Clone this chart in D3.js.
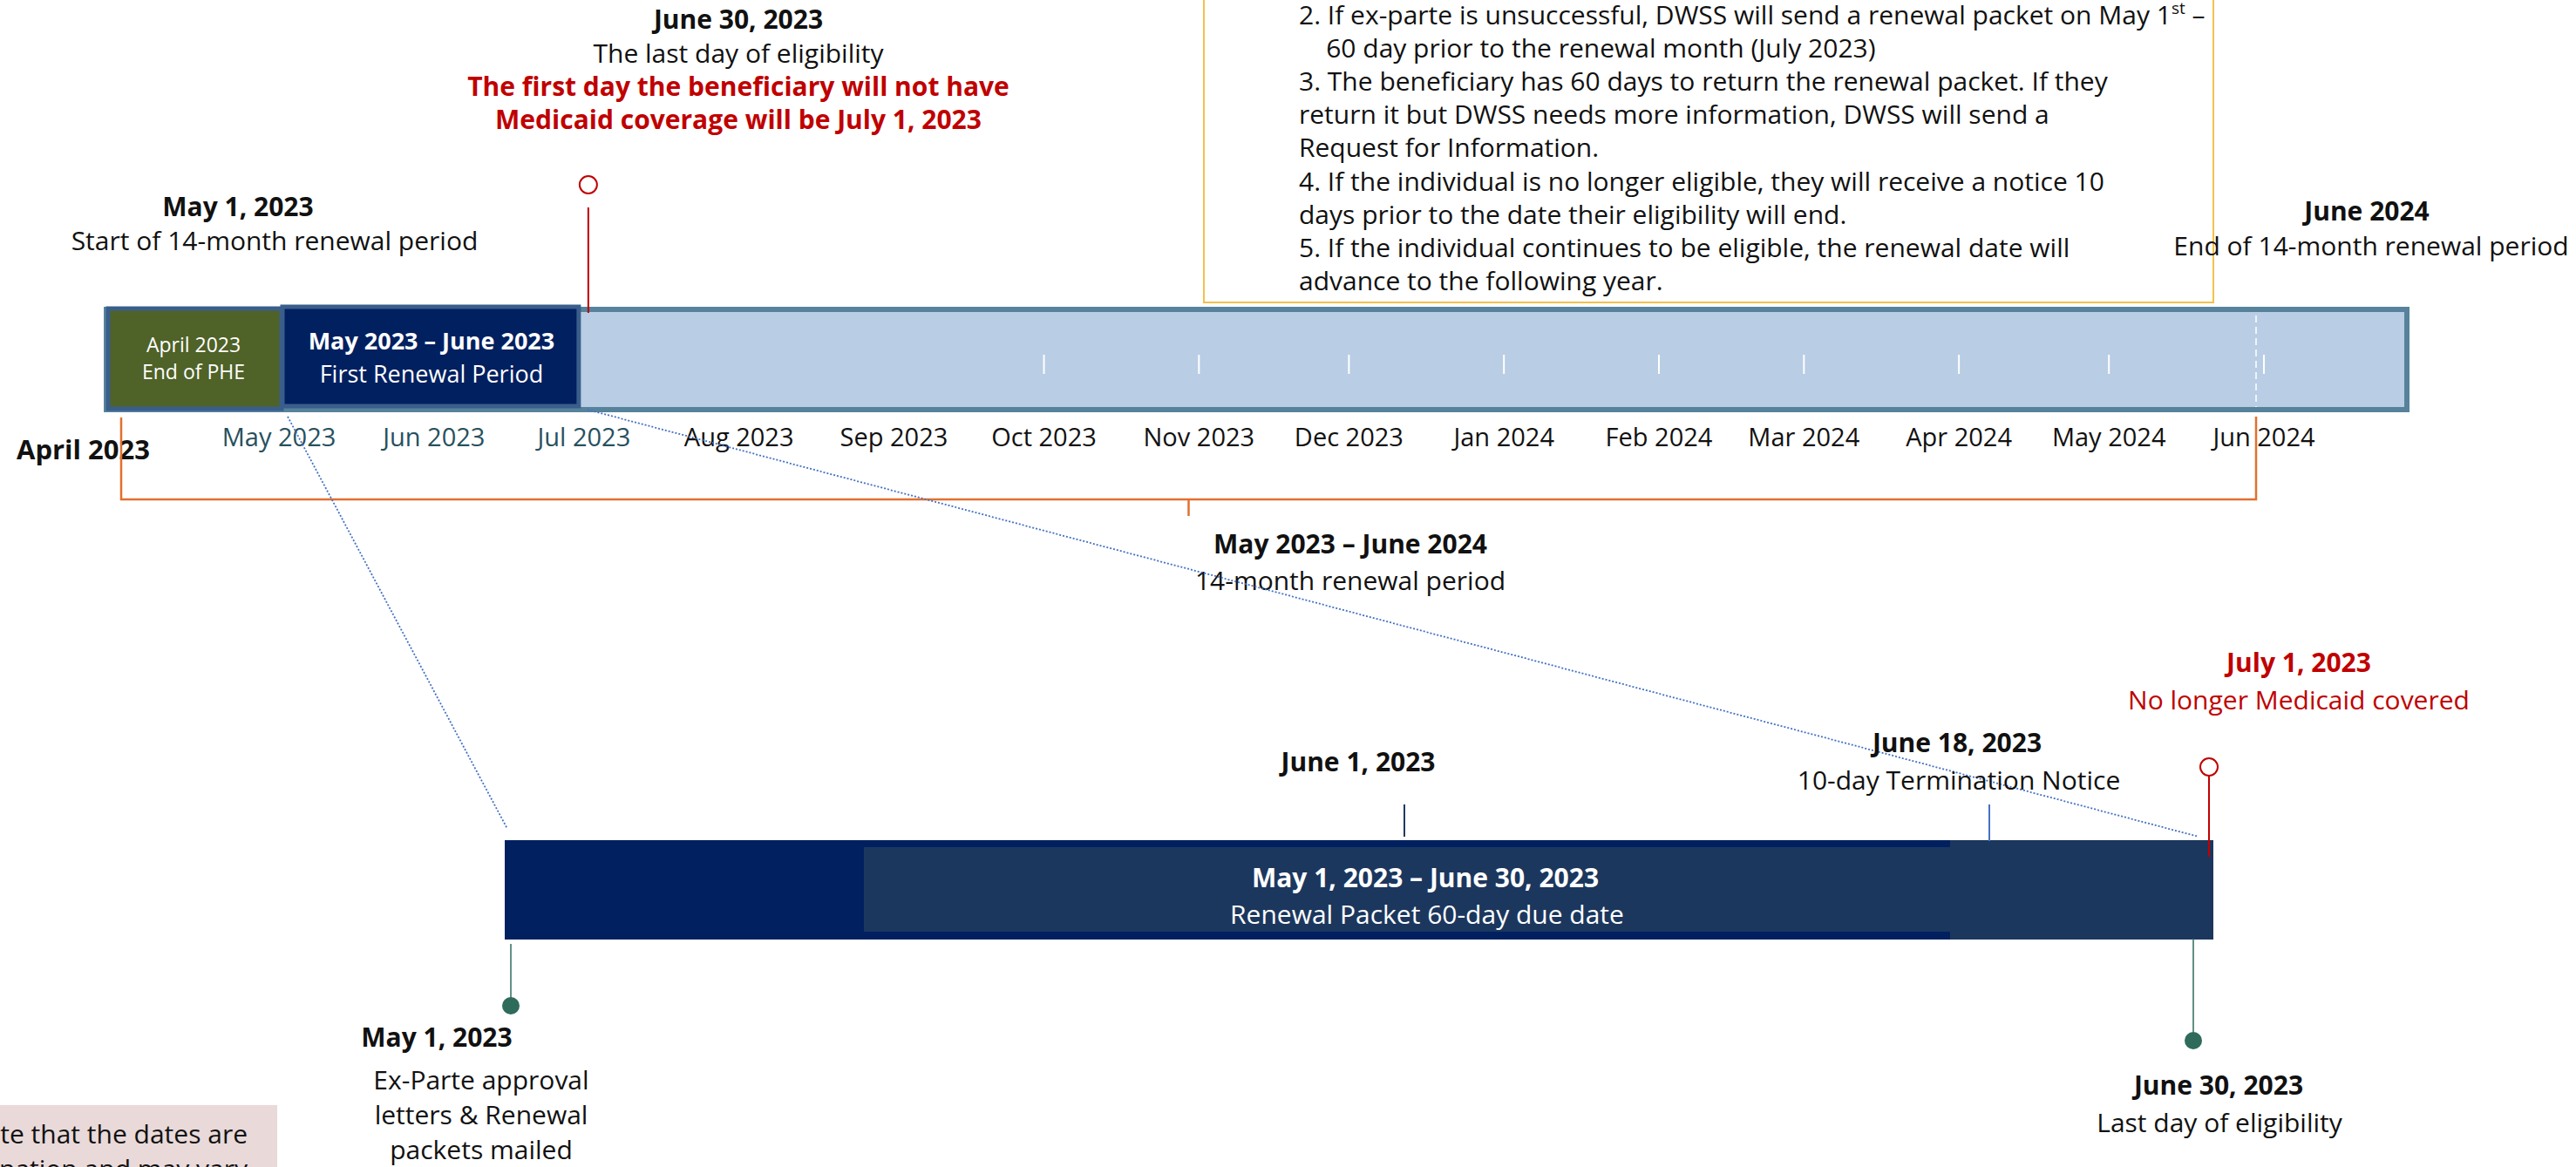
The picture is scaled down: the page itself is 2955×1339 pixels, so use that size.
<!DOCTYPE html>
<html>
<head>
<meta charset="utf-8">
<script src="https://cdn.jsdelivr.net/npm/d3@7"></script>
<style>
  html, body { margin: 0; padding: 0; background: #fff; }
  svg { display: block; font-family: "Open Sans", "Noto Sans", sans-serif; }
</style>
</head>
<body>
<div class="timeline"></div>
<script>
var parseDay = d3.timeParse("%Y-%m-%d");

// months of the 14-month renewal period
var months = ["2023-05-01", "2023-06-01", "2023-07-01", "2023-08-01", "2023-09-01", "2023-10-01",
  "2023-11-01", "2023-12-01", "2024-01-01", "2024-02-01", "2024-03-01", "2024-04-01",
  "2024-05-01", "2024-06-01"];

// month labels under the bar
var monthLabels = ["May 2023", "Jun 2023", "Jul 2023", "Aug 2023", "Sep 2023", "Oct 2023",
  "Nov 2023", "Dec  2023", "Jan 2024", "Feb 2024", "Mar 2024", "Apr 2024", "May 2024", "Jun  2024"];

// months that get a white tick inside the bar
var tickMonths = ["2023-10-01", "2023-11-01", "2023-12-01", "2024-01-01", "2024-02-01",
  "2024-03-01", "2024-04-01", "2024-05-01", "2024-06-01"];

// periods drawn on the top bar
var periodStarts = ["2023-04-01", "2023-05-01"];
var periodEnds = ["2023-05-01", "2023-07-01"];
var periodTitles = ["April 2023", "May 2023 \u2013 June 2023"];
var periodSubtitles = ["End of PHE", "First Renewal Period"];

// key dates of the first renewal (lower bar)
var eventDates = ["2023-05-01", "2023-06-01", "2023-06-18", "2023-06-30", "2023-07-01"];
var eventTitles = ["May 1, 2023", "June 1, 2023", "June 18, 2023", "June 30, 2023", "July 1, 2023"];
var eventLines = [
  ["Ex-Parte approval", "letters & Renewal", "packets mailed"],
  [],
  ["10-day Termination Notice"],
  ["Last day of eligibility"],
  ["No longer Medicaid covered"]];

// numbered steps in the text box
var steps = [
  "2. If ex-parte is unsuccessful, DWSS will send a renewal packet on May 1|st| \u2013",
  "    60 day prior to the renewal month (July 2023)",
  "3. The beneficiary has 60 days to return the renewal packet. If they",
  "return it but DWSS needs more information, DWSS will send a",
  "Request for Information.",
  "4. If the individual is no longer eligible, they will receive a notice 10",
  "days prior to the date their eligibility will end.",
  "5. If the individual continues to be eligible, the renewal date will",
  "advance to the following year."];

var Timeline = function(){

  // write a block of centred lines
  function lines(g, x, y, list, step, size, weight, color, anchor) {
    g.append("text")
      .attr("x", x)
      .attr("y", y)
      .attr("text-anchor", anchor || "middle")
      .style("font-size", size + "px")
      .style("font-weight", weight)
      .style("fill", color)
      .selectAll("tspan")
      .data(list)
      .enter()
      .append("tspan")
      .attr("x", x)
      .attr("dy", function (d, i) { return i === 0 ? 0 : step; })
      .text(function (d) { return d; });
  }

  return {

    init: function() {

      var red = "#c00000", navy = "#012060", slate = "#1c375e", green = "#2e6b5b";

      // create the SVG
      var svg = d3.select(".timeline").append("svg")
        .attr("width", 2955)
        .attr("height", 1339);

      svg.append("rect")
        .attr("width", 2955)
        .attr("height", 1339)
        .style("fill", "#fff");

      // scale for the 14-month bar
      var x = d3.scaleTime()
        .domain([parseDay(months[0]), parseDay(months[months.length - 1])])
        .range([320, 2597]);

      // scale for the zoomed first renewal period
      var x2 = d3.scaleTime()
        .domain(eventDates.map(parseDay))
        .range([586, 1611, 2282, 2516, 2534]);

      // ---- text box with the steps
      var box = svg.append("g");
      box.append("rect")
        .attr("x", 1381).attr("y", -20)
        .attr("width", 1158).attr("height", 367)
        .style("fill", "#fff")
        .style("stroke", "#f2c14e")
        .style("stroke-width", 2);

      var stepText = box.append("text")
        .style("font-size", "30px")
        .style("fill", "#111")
        .attr("xml:space", "preserve");
      steps.forEach(function (s, i) {
        var parts = s.split("|");
        stepText.append("tspan")
          .attr("x", 1490)
          .attr("y", 28 + i * 38.1)
          .text(parts[0]);
        if (parts.length > 1) {
          stepText.append("tspan")
            .attr("dy", -12)
            .style("font-size", "19px")
            .text(parts[1]);
          stepText.append("tspan")
            .attr("dy", 12)
            .text(parts[2]);
        }
      });

      // ---- top bar
      var top = svg.append("g");

      top.append("rect")
        .attr("x", 122).attr("y", 355)
        .attr("width", 2639).attr("height", 115)
        .style("fill", "#b9cde5")
        .style("stroke", "#56839b")
        .style("stroke-width", 6);

      // period boxes
      var periods = top.selectAll("g.period")
        .data(periodStarts)
        .enter()
        .append("g")
        .attr("class", "period");

      periods.append("rect")
        .attr("x", function (d, i) { return i === 0 ? 124 : x(parseDay(d)) + 4; })
        .attr("y", function (d, i) { return i === 0 ? 354 : 352; })
        .attr("width", function (d, i) {
          var x0 = i === 0 ? 124 : x(parseDay(d)) + 4;
          return x(parseDay(periodEnds[i])) - (i === 0 ? -3 : 6) - x0;
        })
        .attr("height", function (d, i) { return i === 0 ? 115 : 114; })
        .style("fill", function (d, i) { return i === 0 ? "#4f6228" : navy; })
        .style("stroke", "#3a5e8c")
        .style("stroke-width", 5);

      periods.each(function (d, i) {
        var x0 = i === 0 ? 124 : x(parseDay(d));
        var cx = (x0 + x(parseDay(periodEnds[i]))) / 2;
        var g = d3.select(this);
        g.append("text")
          .attr("x", cx).attr("y", i === 0 ? 404 : 401)
          .attr("text-anchor", "middle")
          .style("font-size", i === 0 ? "23px" : "27px")
          .style("font-weight", i === 0 ? 400 : 700)
          .style("fill", "#fff")
          .text(periodTitles[i]);
        g.append("text")
          .attr("x", cx).attr("y", i === 0 ? 435 : 439)
          .attr("text-anchor", "middle")
          .style("font-size", i === 0 ? "23px" : "27px")
          .style("fill", "#fff")
          .text(periodSubtitles[i]);
      });

      // white month ticks inside the bar
      top.selectAll("line.tick")
        .data(tickMonths)
        .enter()
        .append("line")
        .attr("class", "tick")
        .attr("x1", function (d) { return x(parseDay(d)); })
        .attr("x2", function (d) { return x(parseDay(d)); })
        .attr("y1", 407).attr("y2", 429)
        .style("stroke", "#fff")
        .style("stroke-width", 2);

      // dashed end marker
      var endX = x(parseDay(months[months.length - 1])) - 9;
      top.append("line")
        .attr("x1", endX).attr("x2", endX)
        .attr("y1", 362).attr("y2", 467)
        .style("stroke", "#fff")
        .style("stroke-width", 1.5)
        .style("stroke-dasharray", "8,5");

      // month labels
      top.append("g")
        .attr("xml:space", "preserve")
        .selectAll("text")
        .data(months)
        .enter()
        .append("text")
        .attr("x", function (d) { return x(parseDay(d)); })
        .attr("y", 512)
        .attr("text-anchor", "middle")
        .style("font-size", "29px")
        .style("fill", function (d, i) { return i < 3 ? "#27505e" : "#111"; })
        .text(function (d, i) { return monthLabels[i]; });

      top.append("text")
        .attr("x", 19).attr("y", 527)
        .style("font-size", "31px")
        .style("font-weight", 700)
        .style("fill", "#111")
        .text("April 2023");

      // orange bracket for the 14-month period
      var bx0 = 139, bx1 = endX;
      top.append("path")
        .attr("d", "M" + bx0 + ",479V573H" + bx1 + "V478M" + ((bx0 + bx1) / 2) + ",573V592")
        .style("fill", "none")
        .style("stroke", "#e2702f")
        .style("stroke-width", 2.5);

      lines(top, 1549, 635, ["May 2023 \u2013 June 2024"], 0, 30, 700, "#111");
      lines(top, 1549, 677, ["14-month renewal period"], 0, 30, 400, "#111");

      // start / end labels
      lines(top, 273, 248, ["May 1, 2023"], 0, 30, 700, "#111");
      lines(top, 315, 287, ["Start of 14-month renewal period"], 0, 30, 400, "#111");
      lines(top, 2715, 253, ["June 2024"], 0, 30, 700, "#111");
      lines(top, 2720, 293, ["End of 14-month renewal period"], 0, 30, 400, "#111");

      // July 1 marker on the top bar
      var jx = x(parseDay(eventDates[4])) + 5;
      top.append("line")
        .attr("x1", jx).attr("x2", jx)
        .attr("y1", 238).attr("y2", 359)
        .style("stroke", red)
        .style("stroke-width", 2);
      top.append("circle")
        .attr("cx", jx).attr("cy", 212).attr("r", 10)
        .style("fill", "#fff")
        .style("stroke", red)
        .style("stroke-width", 2);

      lines(top, 847, 33, ["June 30, 2023"], 0, 30, 700, "#111");
      lines(top, 847, 72, ["The last day of eligibility"], 0, 30, 400, "#111");
      lines(top, 847, 110, ["The first day the beneficiary will not have",
        "Medicaid coverage will be July 1, 2023"], 38, 30, 700, red);

      // ---- dotted zoom lines from the top bar to the lower bar
      var zoom = svg.append("g")
        .style("stroke", "#4472c4")
        .style("stroke-width", 1.8)
        .style("stroke-dasharray", "2,2");
      zoom.append("line")
        .attr("x1", x(parseDay(eventDates[0])) + 10).attr("y1", 478)
        .attr("x2", x2(parseDay(eventDates[0])) - 4).attr("y2", 951);
      zoom.append("line")
        .attr("x1", x(parseDay(eventDates[4])) + 4).attr("y1", 470)
        .attr("x2", x2(parseDay(eventDates[4])) - 12).attr("y2", 960);

      // ---- lower bar
      var low = svg.append("g");
      var lx0 = x2(parseDay(eventDates[0])) - 7, lx1 = x2(parseDay(eventDates[4])) + 5;

      low.append("rect")
        .attr("x", lx0).attr("y", 964)
        .attr("width", lx1 - lx0).attr("height", 114)
        .style("fill", navy);
      low.append("rect")
        .attr("x", 2237).attr("y", 964)
        .attr("width", lx1 - 2237).attr("height", 114)
        .style("fill", slate);
      low.append("rect")
        .attr("x", 991).attr("y", 972)
        .attr("width", 2237 - 991).attr("height", 97)
        .style("fill", slate);

      lines(low, 1635, 1018, ["May 1, 2023 \u2013 June 30, 2023"], 0, 30, 700, "#fff");
      lines(low, 1637, 1060, ["Renewal Packet 60-day due date"], 0, 30, 400, "#fff");

      // event markers above the bar
      var e1 = x2(parseDay(eventDates[1])), e2 = x2(parseDay(eventDates[2]));
      low.append("line")
        .attr("x1", e1).attr("x2", e1).attr("y1", 923).attr("y2", 960)
        .style("stroke", "#203864").style("stroke-width", 2);
      low.append("line")
        .attr("x1", e2).attr("x2", e2).attr("y1", 923).attr("y2", 965)
        .style("stroke", "#4472c4").style("stroke-width", 2);

      lines(low, e1 - 53, 885, [eventTitles[1]], 0, 30, 700, "#111");
      lines(low, e2 - 37, 863, [eventTitles[2]], 0, 30, 700, "#111");
      lines(low, e2 - 35, 906, eventLines[2], 0, 30, 400, "#111");

      // July 1: coverage ends
      var e4 = x2(parseDay(eventDates[4]));
      low.append("line")
        .attr("x1", e4).attr("x2", e4).attr("y1", 890).attr("y2", 983)
        .style("stroke", red).style("stroke-width", 2);
      low.append("circle")
        .attr("cx", e4).attr("cy", 880).attr("r", 10)
        .style("fill", "#fff").style("stroke", red).style("stroke-width", 2);
      lines(low, e4 + 103, 771, [eventTitles[4]], 0, 30, 700, red);
      lines(low, e4 + 103, 814, eventLines[4], 0, 30, 400, red);

      // markers below the bar: May 1 and June 30
      var below = [0, 3];
      var dotY = [1154, 1194];
      below.forEach(function (k, i) {
        var ex = x2(parseDay(eventDates[k]));
        low.append("line")
          .attr("x1", ex).attr("x2", ex)
          .attr("y1", i === 0 ? 1083 : 1077).attr("y2", dotY[i])
          .style("stroke", green).style("stroke-width", 1.5);
        low.append("circle")
          .attr("cx", ex).attr("cy", dotY[i]).attr("r", 10)
          .style("fill", green);
      });

      var m0 = x2(parseDay(eventDates[0])), m3 = x2(parseDay(eventDates[3]));
      lines(low, m0 - 85, 1201, [eventTitles[0]], 0, 30, 700, "#111");
      lines(low, m0 - 34, 1250, eventLines[0], 40, 30, 400, "#111");
      lines(low, m3 + 29, 1256, [eventTitles[3]], 0, 30, 700, "#111");
      lines(low, m3 + 30, 1299, eventLines[3], 0, 30, 400, "#111");

      // ---- note box, cut at the left edge
      var note = svg.append("g");
      note.append("rect")
        .attr("x", -5).attr("y", 1268)
        .attr("width", 323).attr("height", 90)
        .style("fill", "#e9d9d9");
      lines(note, 284, 1312, ["Please note that the dates are",
        "an explanation and may vary"], 40, 30, 400, "#111", "end");

    }

  };

}();

document.addEventListener("DOMContentLoaded", function () {
  Timeline.init();
});
</script>
</body>
</html>
